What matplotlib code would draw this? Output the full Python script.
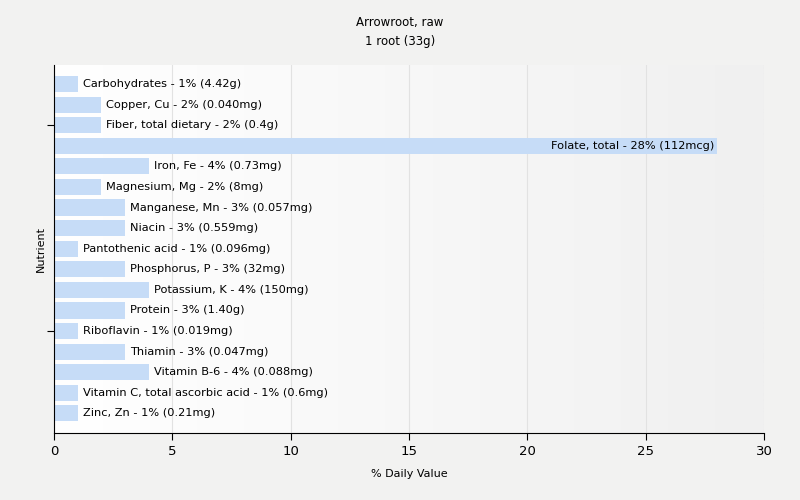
import matplotlib

matplotlib.use("Agg")

import matplotlib.pyplot as plt
import numpy as np

nutrients = [
    "Carbohydrates", "Copper, Cu", "Fiber, total dietary", "Folate, total",
    "Iron, Fe", "Magnesium, Mg", "Manganese, Mn", "Niacin",
    "Pantothenic acid", "Phosphorus, P", "Potassium, K", "Protein",
    "Riboflavin", "Thiamin", "Vitamin B-6", "Vitamin C, total ascorbic acid",
    "Zinc, Zn",
]
daily_pct = [1, 2, 2, 28, 4, 2, 3, 3, 1, 3, 4, 3, 1, 3, 4, 1, 1]
amounts = [
    "4.42g", "0.040mg", "0.4g", "112mcg", "0.73mg", "8mg", "0.057mg",
    "0.559mg", "0.096mg", "32mg", "150mg", "1.40g", "0.019mg", "0.047mg",
    "0.088mg", "0.6mg", "0.21mg",
]
x_ticks = [0, 5, 10, 15, 20, 25, 30]

BG = "#f2f2f1"
BAR = "#c6dcf7"

fig = plt.figure(figsize=(8, 5), dpi=100, facecolor=BG)
ax = fig.add_axes([54 / 800, 1 - 433 / 500, 710 / 800, 368 / 500])

# plot area: soft gradient white -> light gray
grad = np.linspace(0, 1, 256).reshape(1, -1)
ax.imshow(grad, cmap=matplotlib.colors.LinearSegmentedColormap.from_list(
    "bg", ["#ffffff", "#f0f0f0"]), aspect="auto",
    extent=[0, 30, 16.95, -0.92], zorder=0)

y = np.arange(len(nutrients))
ax.barh(y, daily_pct, height=0.78, color=BAR, zorder=2)

for yi, name, pct, amt in zip(y, nutrients, daily_pct, amounts):
    label = f"{name} - {pct}% ({amt})"
    if pct > 20:
        ax.annotate(label, (pct, yi), xytext=(-2, 0), textcoords="offset points",
                    ha="right", va="center", fontsize=8.2, zorder=3)
    else:
        ax.annotate(label, (pct, yi), xytext=(3.5, 0), textcoords="offset points",
                    ha="left", va="center", fontsize=8.2, zorder=3)

ax.set_xlim(0, 30)
ax.set_ylim(16.95, -0.92)
ax.set_xticks(x_ticks)
ax.set_yticks([2, 12])
ax.set_yticklabels([])
ax.tick_params(axis="x", labelsize=9.5, length=5)
ax.tick_params(axis="y", length=5)
ax.grid(axis="x", color="#e2e2e2", linewidth=0.8, zorder=1)
ax.set_axisbelow(True)
for side in ("top", "right"):
    ax.spines[side].set_visible(False)

ax.set_xlabel("% Daily Value", fontsize=8, labelpad=8)
ax.set_ylabel("Nutrient", fontsize=8, labelpad=-3)
fig.suptitle("Arrowroot, raw\n1 root (33g)", fontsize=8.5, y=0.968, linespacing=1.6)

fig.savefig("out.png", dpi=100, facecolor=BG)
